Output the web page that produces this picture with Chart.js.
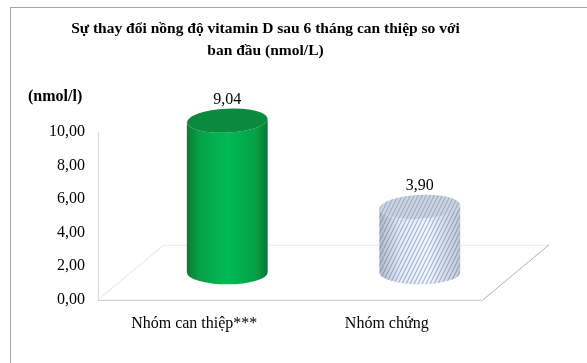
<!DOCTYPE html>
<html>
<head>
<meta charset="utf-8">
<script src="https://cdn.jsdelivr.net/npm/chart.js@4/dist/chart.umd.min.js"></script>
<style>
    html, body { margin: 0; padding: 0; background: #ffffff; }
    #wrap { width: 587px; height: 363px; }
</style>
</head>
<body>
<div id="wrap"><canvas id="vitChart" width="587" height="363"></canvas></div>
<script>
// dữ liệu biểu đồ
const categories = ['Nhóm can thiệp***', 'Nhóm chứng'];
const values = [9.04, 3.90];
const yTicks = [0, 2, 4, 6, 8, 10];
const titleLines = ['Sự thay đổi nồng độ vitamin D sau 6 tháng can thiệp so với', 'ban đầu (nmol/L)'];
const unitLabel = '(nmol/l)';

const SERIF = "'Liberation Serif', 'Times New Roman', serif";
// độ lệch chiều sâu 3D
const DEPTH_X = 66;
const DEPTH_Y = -55;

function fmt(v) {
    return v.toFixed(2).replace('.', ',');
}

// mẫu sọc chéo cho nhóm chứng
function makeStripePattern(ctx, base, stripe) {
    const c = document.createElement('canvas');
    c.width = 4;
    c.height = 8;
    const p = c.getContext('2d');
    p.fillStyle = base;
    p.fillRect(0, 0, 4, 8);
    p.strokeStyle = stripe;
    p.lineWidth = 1.3;
    p.beginPath();
    for (let k = -4; k <= 8; k += 4) {
        p.moveTo(k, 8);
        p.lineTo(k + 4, 0);
    }
    p.stroke();
    return ctx.createPattern(c, 'repeat');
}

// khung viền + sàn 3D
const framePlugin = {
    id: 'frame',
    beforeDraw(chart) {
        const ctx = chart.ctx;
        ctx.save();
        ctx.fillStyle = '#ffffff';
        ctx.fillRect(0, 0, chart.width, chart.height);
        ctx.strokeStyle = '#a6a6a6';
        ctx.lineWidth = 1;
        ctx.strokeRect(10.5, 7.5, 800, 600);
        ctx.restore();
    },
    beforeDatasetsDraw(chart) {
        const ctx = chart.ctx;
        const a = chart.chartArea;
        ctx.save();
        ctx.lineWidth = 1;
        // cạnh sau
        ctx.strokeStyle = '#ececec';
        ctx.beginPath();
        ctx.moveTo(a.left + DEPTH_X, a.bottom + DEPTH_Y + 0.5);
        ctx.lineTo(a.right + DEPTH_X, a.bottom + DEPTH_Y + 0.5);
        ctx.stroke();
        // cạnh trái
        ctx.strokeStyle = '#e4e4e4';
        ctx.beginPath();
        ctx.moveTo(a.left, a.bottom);
        ctx.lineTo(a.left + DEPTH_X, a.bottom + DEPTH_Y);
        ctx.stroke();
        // cạnh phải
        ctx.strokeStyle = '#b0b0b0';
        ctx.beginPath();
        ctx.moveTo(a.right, a.bottom);
        ctx.lineTo(a.right + DEPTH_X, a.bottom + DEPTH_Y);
        ctx.stroke();
        // cạnh trước
        ctx.strokeStyle = '#c8c8c8';
        ctx.beginPath();
        ctx.moveTo(a.left, a.bottom + 0.5);
        ctx.lineTo(a.right, a.bottom + 0.5);
        ctx.stroke();
        ctx.restore();
    },
    afterDraw(chart) {
        const ctx = chart.ctx;
        ctx.save();
        ctx.fillStyle = '#000000';
        ctx.font = 'bold 16px ' + SERIF;
        ctx.textAlign = 'left';
        ctx.textBaseline = 'middle';
        ctx.fillText(unitLabel, 28, 97);
        ctx.restore();
    }
};

// vẽ hình trụ từ phần tử cột
const cylinderPlugin = {
    id: 'cylinders',
    afterDatasetsDraw(chart) {
        const ctx = chart.ctx;
        const meta = chart.getDatasetMeta(0);
        const dx = DEPTH_X / 2;
        const dy = DEPTH_Y / 2;
        meta.data.forEach((bar, i) => {
            const cx = bar.x + dx;
            const top = bar.y + dy;
            const bottom = bar.base + dy;
            const rx = bar.width / 2;
            const ry = 12;
            const left = cx - rx;
            const right = cx + rx;
            const tilt = -0.05;

            let bodyFill, overlay, topFill;
            if (i === 0) {
                const g = ctx.createLinearGradient(left, 0, right, 0);
                g.addColorStop(0, '#0a7a34');
                g.addColorStop(0.15, '#07a046');
                g.addColorStop(0.5, '#00bb55');
                g.addColorStop(0.85, '#06a046');
                g.addColorStop(1, '#0b7634');
                bodyFill = g;
                topFill = '#0b8a3d';
            } else {
                bodyFill = makeStripePattern(ctx, '#f4f7fb', '#a7bfe0');
                const g = ctx.createLinearGradient(left, 0, right, 0);
                g.addColorStop(0, 'rgba(90,100,120,0.4)');
                g.addColorStop(0.25, 'rgba(90,100,120,0.08)');
                g.addColorStop(0.6, 'rgba(90,100,120,0.0)');
                g.addColorStop(1, 'rgba(90,100,120,0.3)');
                overlay = g;
                topFill = makeStripePattern(ctx, '#cdd5e1', '#a3b2c9');
            }

            ctx.save();
            // thân trụ
            ctx.beginPath();
            ctx.moveTo(left, top);
            ctx.lineTo(left, bottom);
            ctx.ellipse(cx, bottom, rx, ry, 0, Math.PI, 0, true);
            ctx.lineTo(right, top);
            ctx.ellipse(cx, top, rx, ry, tilt, 0, Math.PI, false);
            ctx.closePath();
            ctx.fillStyle = bodyFill;
            ctx.fill();
            if (overlay) {
                ctx.fillStyle = overlay;
                ctx.fill();
            }
            // mặt trên
            ctx.beginPath();
            ctx.ellipse(cx, top, rx, ry, tilt, 0, Math.PI * 2);
            ctx.fillStyle = topFill;
            ctx.fill();
            // nhãn giá trị
            ctx.fillStyle = '#000000';
            ctx.font = '16px ' + SERIF;
            ctx.textAlign = 'center';
            ctx.textBaseline = 'middle';
            ctx.fillText(fmt(values[i]), cx, top - ry - 9);
            ctx.restore();
        });
    }
};

const ctx = document.getElementById('vitChart').getContext('2d');
new Chart(ctx, {
    type: 'bar',
    data: {
        labels: categories,
        datasets: [{
            data: values,
            backgroundColor: 'rgba(0,0,0,0)',
            borderWidth: 0,
            categoryPercentage: 1,
            barPercentage: 0.42
        }]
    },
    options: {
        responsive: false,
        animation: false,
        layout: {
            padding: { top: 18, left: 48, right: 104, bottom: 16 }
        },
        plugins: {
            legend: { display: false },
            tooltip: { enabled: false },
            title: {
                display: true,
                text: titleLines,
                color: '#000000',
                font: { family: SERIF, size: 15.5, weight: 'bold', lineHeight: 1.42 },
                padding: { top: 0, bottom: 70 }
            }
        },
        scales: {
            x: {
                grid: { display: false, drawTicks: false },
                border: { display: false },
                ticks: {
                    color: '#000000',
                    padding: 14,
                    font: { family: SERIF, size: 16 }
                }
            },
            y: {
                min: 0,
                max: 10,
                afterBuildTicks(scale) {
                    scale.ticks = yTicks.map(v => ({ value: v }));
                },
                afterFit(scale) {
                    scale.width = 50;
                },
                grid: { display: false, drawTicks: false },
                border: { display: true, color: '#d9d9d9' },
                ticks: {
                    color: '#000000',
                    padding: 13,
                    font: { family: SERIF, size: 16 },
                    callback: v => fmt(v)
                }
            }
        }
    },
    plugins: [framePlugin, cylinderPlugin]
});
</script>
</body>
</html>
